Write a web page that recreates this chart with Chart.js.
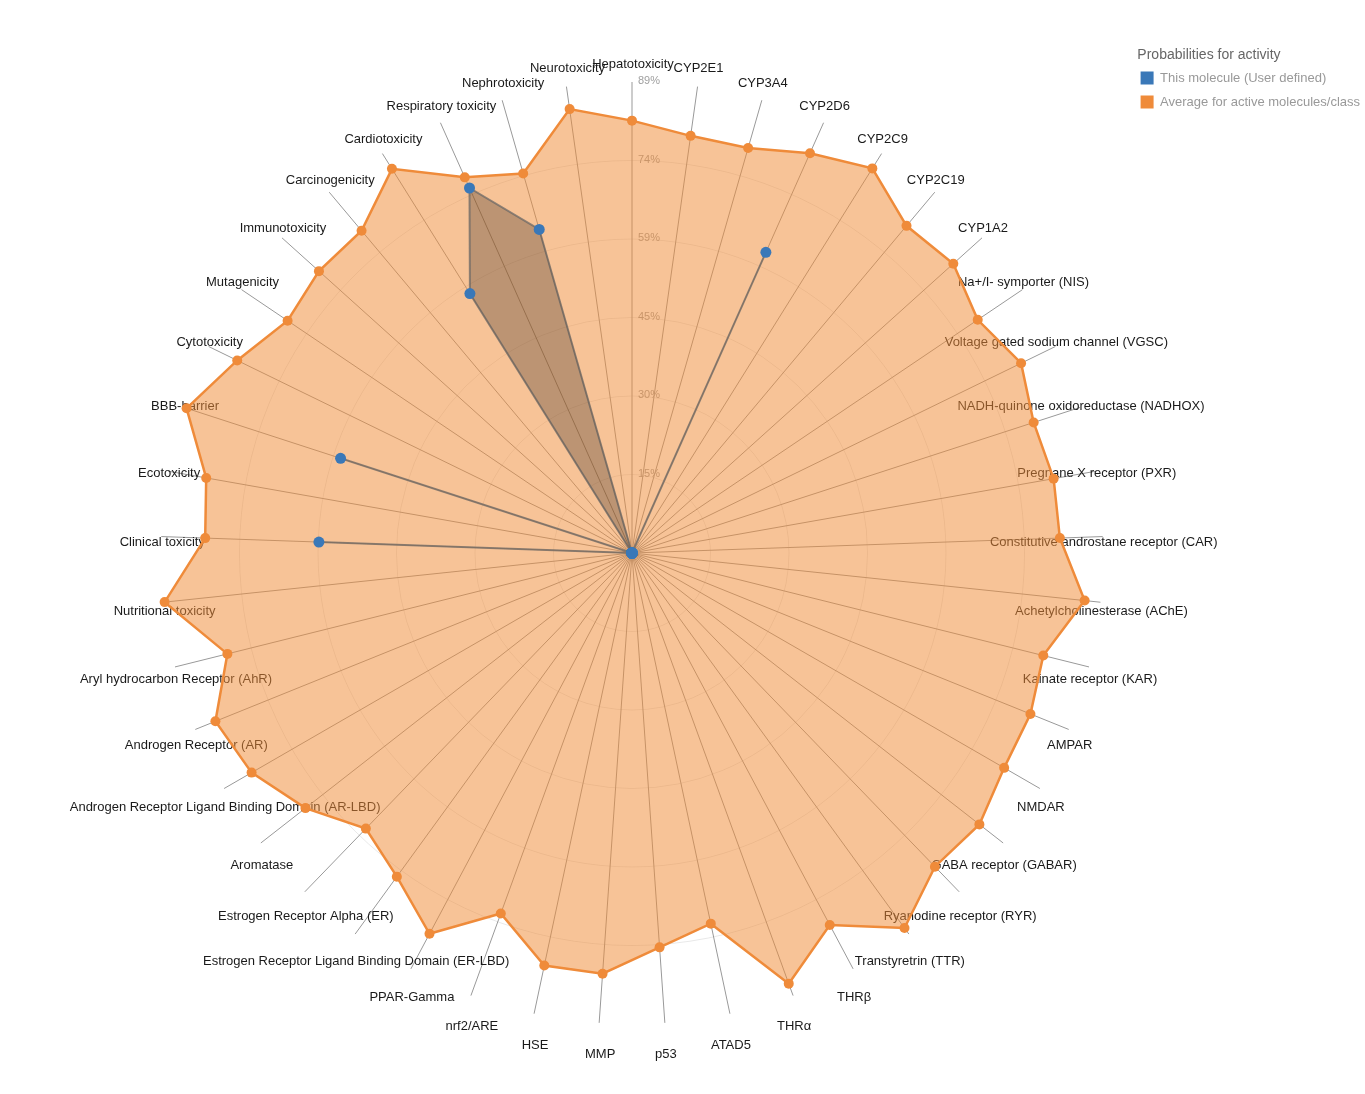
<!DOCTYPE html>
<html>
<head>
<meta charset="utf-8">
<title>Probabilities for activity</title>
<script src="https://cdn.jsdelivr.net/npm/chart.js@4.4.3/dist/chart.umd.min.js"></script>
<style>
    html, body { margin: 0; padding: 0; background: #fff; overflow: hidden; }
    #wrap { position: relative; width: 1365px; height: 1094px; }
</style>
</head>
<body>
<div id="wrap"><canvas id="radar"></canvas></div>
<script>
const labels = [
    'Hepatotoxicity', 'CYP2E1', 'CYP3A4', 'CYP2D6', 'CYP2C9', 'CYP2C19', 'CYP1A2',
    'Na+/I- symporter (NIS)', 'Voltage gated sodium channel (VGSC)',
    'NADH-quinone oxidoreductase (NADHOX)', 'Pregnane X receptor (PXR)',
    'Constitutive androstane receptor (CAR)', 'Achetylcholinesterase (AChE)',
    'Kainate receptor (KAR)', 'AMPAR', 'NMDAR', 'GABA receptor (GABAR)',
    'Ryanodine receptor (RYR)', 'Transtyretrin (TTR)', 'THRβ', 'THRα', 'ATAD5', 'p53',
    'MMP', 'HSE', 'nrf2/ARE', 'PPAR-Gamma',
    'Estrogen Receptor Ligand Binding Domain (ER-LBD)', 'Estrogen Receptor Alpha (ER)',
    'Aromatase', 'Androgen Receptor Ligand Binding Domain (AR-LBD)',
    'Androgen Receptor (AR)', 'Aryl hydrocarbon Receptor (AhR)', 'Nutritional toxicity',
    'Clinical toxicity', 'Ecotoxicity', 'BBB-barrier', 'Cytotoxicity', 'Mutagenicity',
    'Immunotoxicity', 'Carcinogenicity', 'Cardiotoxicity', 'Respiratory toxicity',
    'Nephrotoxicity', 'Neurotoxicity'
];

// "This molecule (User defined)"
const moleculeValues = [
    0, 0, 0, 62.2, 0, 0, 0,
    0, 0, 0, 0, 0, 0,
    0, 0, 0, 0, 0, 0, 0, 0, 0, 0,
    0, 0, 0, 0, 0, 0, 0, 0, 0, 0,
    0, 59.2, 0, 57.9, 0, 0, 0, 0,
    57.8, 75.5, 63.6, 0
];

// "Average for active molecules/class"
const averageValues = [
    81.7, 79.6, 79.6, 82.7, 85.7, 80.7, 81.7,
    78.8, 81.8, 79.8, 80.9, 80.9, 86.0,
    80.1, 81.2, 81.2, 83.3, 82.4, 87.6, 79.6, 86.6, 71.6, 74.7,
    79.7, 79.7, 72.5, 81.5, 75.6, 72.4, 78.3, 83.0, 84.9, 78.8,
    88.8, 80.7, 81.7, 88.5, 83.0, 78.5, 79.6, 79.5,
    85.6, 77.7, 74.6, 84.7
];

const tickValues = [0, 14.83, 29.67, 44.5, 59.33, 74.17, 89];
const tickLabels = ['', '15%', '30%', '45%', '59%', '74%', '89%'];

const FONT = '"Liberation Sans", Arial, Helvetica, sans-serif';
Chart.defaults.font.family = FONT;

// spoke labels + tick labels, drawn under the filled areas
const spokeLabels = {
    id: 'spokeLabels',
    beforeDatasetsDraw(chart) {
        const scale = chart.scales.r;
        const ctx = chart.ctx;
        ctx.save();
        ctx.textAlign = 'center';
        ctx.textBaseline = 'middle';
        ctx.font = '13px ' + FONT;
        ctx.fillStyle = '#1a1a1a';
        chart.data.labels.forEach((text, i) => {
            const p = scale.getPointPosition(i, scale.drawingArea);
            const c = Math.cos(scale.getIndexAngle(i));
            const dy = 6.5 - c * (c > 0 ? 24.5 : 25.5);
            ctx.fillText(text, p.x + 1, p.y + dy);
        });

        ctx.font = '11px ' + FONT;
        ctx.fillStyle = '#a0a0a0';
        scale.ticks.forEach((t, i) => {
            if (!tickLabels[i]) return;
            const d = scale.getDistanceFromCenterForValue(t.value);
            ctx.fillText(tickLabels[i], scale.xCenter + 17, scale.yCenter - d - 1);
        });
        ctx.restore();
    }
};

new Chart(document.getElementById('radar'), {
    type: 'radar',
    data: {
        labels: labels,
        datasets: [
            {
                label: 'This molecule (User defined)',
                data: moleculeValues,
                fill: true,
                borderColor: 'rgba(100,100,100,0.7)',
                backgroundColor: 'rgba(0,0,0,0.24)',
                borderWidth: 2,
                pointBackgroundColor: '#3a78b8',
                pointBorderColor: '#3a78b8',
                pointBorderWidth: 0,
                pointRadius: 5.5
            },
            {
                label: 'Average for active molecules/class',
                data: averageValues,
                fill: true,
                borderColor: '#ef8b3a',
                backgroundColor: 'rgba(240,140,55,0.52)',
                borderWidth: 2.5,
                pointBackgroundColor: '#ef8b3a',
                pointBorderColor: '#ef8b3a',
                pointBorderWidth: 0,
                pointRadius: 5
            }
        ]
    },
    options: {
        responsive: true,
        maintainAspectRatio: false,
        animation: false,
        layout: { padding: { top: 20, right: -5 } },
        elements: { line: { tension: 0 } },
        scales: {
            r: {
                min: 0,
                max: 89,
                startAngle: 0,
                afterBuildTicks: (scale) => {
                    scale.ticks = tickValues.map(v => ({ value: v }));
                },
                afterFit: (scale) => {
                    scale.xCenter = 632;
                    scale.yCenter = 553;
                    scale.drawingArea = 471;
                },
                ticks: { display: false },
                pointLabels: { display: false },
                grid: {
                    circular: true,
                    lineWidth: 1,
                    color: (c) => c.index === tickValues.length - 1 ? 'rgba(0,0,0,0)' : 'rgba(0,0,0,0.09)'
                },
                angleLines: { color: '#999', lineWidth: 1 }
            }
        },
        plugins: {
            tooltip: { enabled: false },
            legend: {
                position: 'right',
                align: 'start',
                title: {
                    display: true,
                    text: '  Probabilities for activity',
                    color: '#666',
                    position: 'start',
                    font: { size: 14, lineHeight: 0.9 },
                    padding: { top: 28, bottom: 0 }
                },
                labels: {
                    boxWidth: 13,
                    boxHeight: 13,
                    padding: 11,
                    color: '#999',
                    font: { size: 13 },
                    generateLabels: (chart) => chart.data.datasets.map((ds, i) => ({
                        text: ds.label,
                        fillStyle: ds.pointBackgroundColor,
                        strokeStyle: ds.pointBackgroundColor,
                        lineWidth: 0,
                        fontColor: '#999',
                        hidden: !chart.isDatasetVisible(i),
                        datasetIndex: i
                    }))
                }
            }
        }
    },
    plugins: [spokeLabels]
});
</script>
</body>
</html>
